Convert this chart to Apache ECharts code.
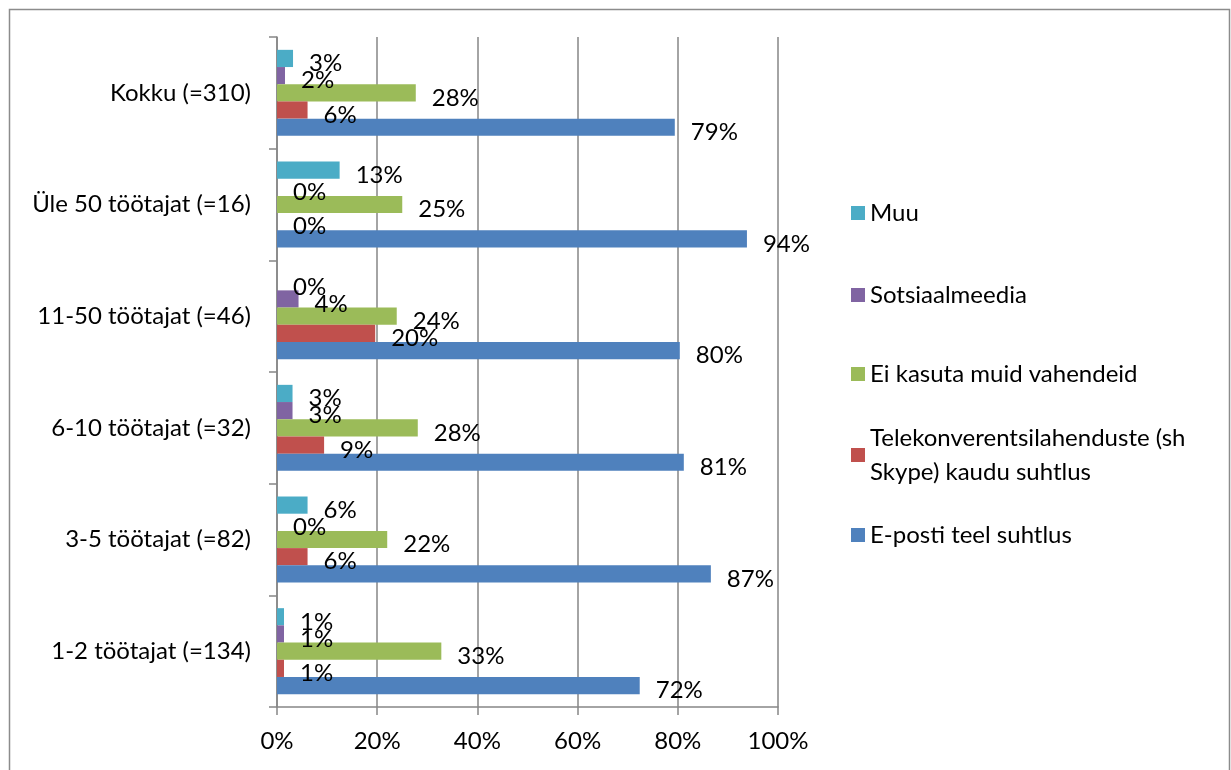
<!DOCTYPE html>
<html>
<head>
<meta charset="utf-8">
<script src="https://cdn.jsdelivr.net/npm/echarts@6/dist/echarts.min.js"></script>
<style>
  html, body { margin: 0; padding: 0; background: #fff; }
  #chart { width: 1231px; height: 770px; }
</style>
</head>
<body>
<div id="chart"></div>
<script>
// categories, bottom to top
var categories = ['1-2 töötajat (=134)', '3-5 töötajat (=82)', '6-10 töötajat (=32)',
                  '11-50 töötajat (=46)', 'Üle 50 töötajat (=16)', 'Kokku (=310)'];

var seriesNames = ['E-posti teel suhtlus', 'Telekonverentsilahenduste (sh Skype) kaudu suhtlus',
                   'Ei kasuta muid vahendeid', 'Sotsiaalmeedia', 'Muu'];

// percentages
var ePost    = [72.4, 86.6, 81.2, 80.4, 93.8, 79.4];
var telekonv = [1.4, 6.1, 9.4, 19.6, 0, 6.1];
var eiKasuta = [32.8, 22.0, 28.1, 23.9, 25.0, 27.7];
var sotsiaal = [1.4, 0, 3.1, 4.3, 0, 1.6];
var muu      = [1.4, 6.1, 3.1, 0, 12.5, 3.2];

var xTicks = [0, 20, 40, 60, 80, 100];

var colors = ['#4F81BD', '#C0504D', '#9BBB59', '#8064A2', '#4BACC6'];
var font = 'Lato, "Open Sans", sans-serif';
var fs = 24;

var chart = echarts.init(document.getElementById('chart'));

function makeSeries(i, data) {
    return {
        name: seriesNames[i],
        type: 'bar',
        data: data,
        barGap: '0%',
        barCategoryGap: '23%',
        itemStyle: { color: colors[i] },
        label: {
            show: true,
            position: 'right',
            distance: 16,
            offset: [0, 5],
            color: '#000',
            fontFamily: font,
            fontSize: fs,
            formatter: function (p) { return Math.round(p.value) + '%'; }
        },
        animation: false
    };
}

// one legend per item so spacing matches the reference
var legendTops = { 'Muu': 199, 'Sotsiaalmeedia': 281, 'Ei kasuta muid vahendeid': 360,
                   'E-posti teel suhtlus': 521 };
var legends = [];
Object.keys(legendTops).forEach(function (n) {
    legends.push({
        data: [n], left: 851, top: legendTops[n], padding: 0,
        icon: 'rect', itemWidth: 14, itemHeight: 14, itemGap: 0,
        selectedMode: false,
        textStyle: { fontFamily: font, fontSize: fs, color: '#000', lineHeight: 28 }
    });
});
legends.push({
    data: [seriesNames[1]], left: 851, top: 404, padding: 0,
    icon: 'rect', itemWidth: 14, itemHeight: 14, itemGap: 0,
    selectedMode: false,
    formatter: function () { return 'Telekonverentsilahenduste (sh\nSkype) kaudu suhtlus'; },
    textStyle: { fontFamily: font, fontSize: fs, color: '#000', lineHeight: 34, padding: [34, 0, 0, 0] }
});

var option = {
    backgroundColor: '#fff',
    animation: false,
    graphic: [{
        type: 'rect',
        shape: { x: 9.5, y: 9.5, width: 1220, height: 800 },
        style: { fill: 'none', stroke: '#8c8c8c', lineWidth: 1.5 },
        silent: true
    }],
    legend: legends,
    grid: { left: 277, right: 453, top: 37, bottom: 63, containLabel: false },
    xAxis: {
        type: 'value',
        min: xTicks[0],
        max: xTicks[xTicks.length - 1],
        interval: 20,
        axisLine: { show: true, lineStyle: { color: '#868686', width: 1.5 } },
        axisTick: { show: true, length: 8, lineStyle: { color: '#868686', width: 1.5 } },
        splitLine: { show: true, lineStyle: { color: '#868686', width: 1.5 } },
        axisLabel: {
            margin: 22, color: '#000', fontFamily: font, fontSize: fs,
            formatter: function (v) { return v + '%'; }
        }
    },
    yAxis: {
        type: 'category',
        data: categories,
        axisLine: { show: true, lineStyle: { color: '#868686', width: 1.5 } },
        axisTick: { show: true, length: 8, inside: false, lineStyle: { color: '#868686', width: 1.5 } },
        axisLabel: { margin: 26, color: '#000', fontFamily: font, fontSize: fs }
    },
    // series listed top-down within each group (ECharts stacks the first one on top)
    series: [
        makeSeries(4, muu),
        makeSeries(3, sotsiaal),
        makeSeries(2, eiKasuta),
        makeSeries(1, telekonv),
        makeSeries(0, ePost)
    ]
};

chart.setOption(option);
</script>
</body>
</html>
